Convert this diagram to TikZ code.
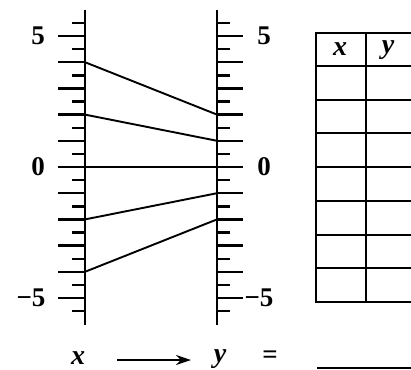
\documentclass[tikz,border=0pt]{standalone}
\usepackage{fontspec}
\setmainfont{Liberation Serif}
\usetikzlibrary{arrows.meta}
\begin{document}
\begin{tikzpicture}[x=1pt,y=-1pt,
  axisline/.style={line width=2.8pt},
  ticka/.style={line width=2.4pt},
  graphline/.style={line width=1.9pt},
  tabline/.style={line width=2pt},
  numlbl/.style={font=\fontsize{27}{27}\selectfont\bfseries, inner sep=0pt},
  varlbl/.style={font=\fontsize{28}{28}\selectfont\bfseries\itshape, inner sep=0pt}]
\useasboundingbox (0,0) rectangle (411,369);
% axes
\coordinate (Ltop) at (85,10); \coordinate (Lbot) at (85,325);
\coordinate (Rtop) at (217,10); \coordinate (Rbot) at (217,325);
\draw[axisline] (Ltop) -- (Lbot);
\draw[axisline] (Rtop) -- (Rbot);
% ticks
\foreach \i in {-11,...,11}{
  \pgfmathsetmacro{\yy}{167-13.1*\i}
  \ifodd\i
    \draw[ticka] (72,\yy) -- (85,\yy);
    \draw[ticka] (217,\yy) -- (230,\yy);
  \else
    \draw[ticka] (58,\yy) -- (85,\yy);
    \draw[ticka] (217,\yy) -- (243,\yy);
  \fi
}
% labels
\node[numlbl] (l5) at (38,36) {5};
\node[numlbl] (l0) at (38,167) {0};
\node[numlbl] (lm5) at (31,298) {−5};
\node[numlbl] (r5) at (264,36) {5};
\node[numlbl] (r0) at (264,167) {0};
\node[numlbl] (rm5) at (259,298) {−5};
% mapping lines
\foreach \v in {4,2,0,-2,-4}{
  \coordinate (L\v) at (85,{167-26.2*\v});
  \coordinate (R\v) at (217,{167-13.1*\v});
  \draw[graphline] (L\v) -- (R\v);
}
% table
\draw[line width=2.4pt] (411,33) -- (316,33) -- (316,302) -- (411,302);
\draw[tabline] (366,33) -- (366,302);
\draw[line width=2.4pt] (316,66) -- (411,66);
\foreach \r in {1,...,6}{
  \draw[tabline] (316,{66+33.7*\r}) -- (411,{66+33.7*\r});
}
\node[varlbl] (hx) at (340,49) {x};
\node[varlbl] (hy) at (388,50) {y};
% bottom row
\node[varlbl] (bx) at (78,358) {x};
\node[varlbl] (by) at (220,359) {y};
\node[numlbl] (beq) at (270,357) {=};
\coordinate (as) at (117,360); \coordinate (ae) at (191,360);
\draw[line width=2pt,-{Stealth[length=15pt,width=10pt,inset=5pt]}] (as) -- (ae);
\coordinate (blankA) at (317,368); \coordinate (blankB) at (411,368);
\draw[line width=1.6pt] (blankA) -- (blankB);
\end{tikzpicture}
\end{document}
